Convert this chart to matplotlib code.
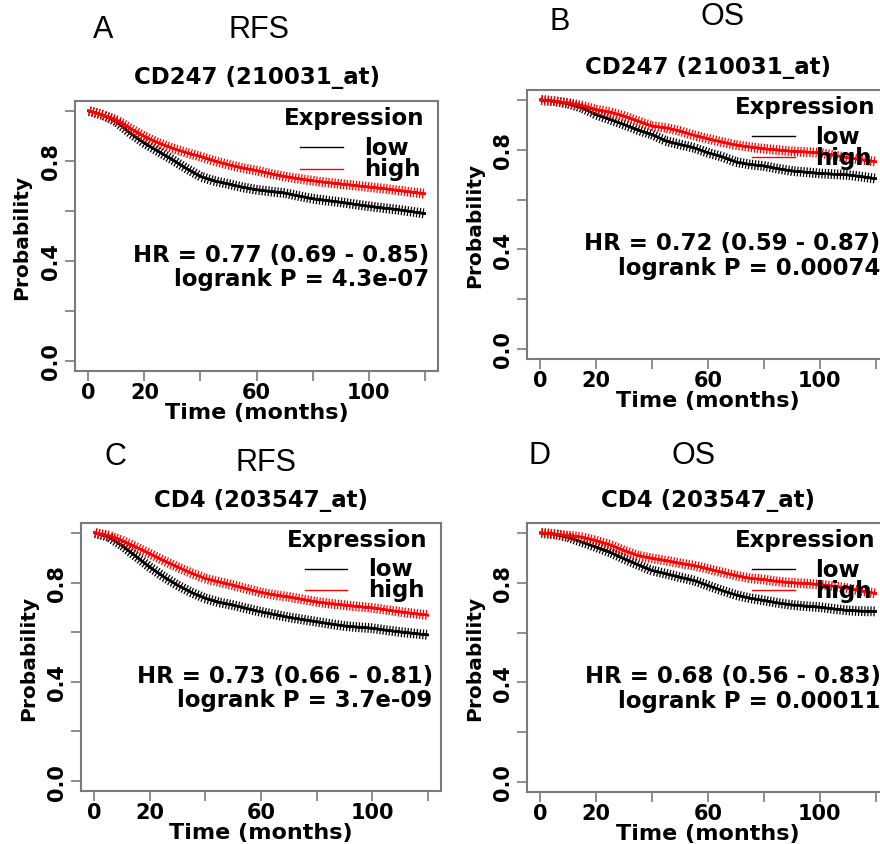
import numpy as np
import matplotlib
matplotlib.use('Agg')
import matplotlib.pyplot as plt
import matplotlib.patheffects as pe

# Kaplan-Meier estimates, every 5 months
months = [0, 5, 10, 15, 20, 25, 30, 35, 40, 45, 50, 55, 60,
          65, 70, 75, 80, 85, 90, 95, 100, 105, 110, 115, 120]

a_low = [1.0, 0.985, 0.957, 0.911, 0.871, 0.838, 0.805, 0.77, 0.738, 0.72, 0.708, 0.695, 0.685,
         0.678, 0.672, 0.66, 0.649, 0.642, 0.635, 0.627, 0.619, 0.612, 0.606, 0.598, 0.59]
a_high = [1.0, 0.984, 0.964, 0.93, 0.898, 0.872, 0.851, 0.833, 0.818, 0.8, 0.785, 0.772, 0.762,
          0.749, 0.738, 0.729, 0.721, 0.714, 0.708, 0.702, 0.696, 0.69, 0.683, 0.676, 0.669]

b_low = [1.0, 0.995, 0.985, 0.968, 0.941, 0.921, 0.901, 0.879, 0.861, 0.835, 0.821, 0.808, 0.788,
         0.772, 0.751, 0.741, 0.735, 0.724, 0.715, 0.71, 0.705, 0.702, 0.699, 0.692, 0.684]
b_high = [1.0, 0.995, 0.988, 0.977, 0.961, 0.951, 0.935, 0.915, 0.895, 0.888, 0.875, 0.858, 0.844,
          0.831, 0.819, 0.811, 0.804, 0.799, 0.794, 0.791, 0.788, 0.778, 0.768, 0.76, 0.752]

c_low = [1.0, 0.985, 0.949, 0.905, 0.862, 0.823, 0.789, 0.76, 0.736, 0.72, 0.709, 0.695, 0.682,
         0.671, 0.66, 0.651, 0.642, 0.633, 0.625, 0.62, 0.616, 0.608, 0.601, 0.595, 0.589]
c_high = [1.0, 0.99, 0.969, 0.943, 0.916, 0.888, 0.862, 0.838, 0.816, 0.802, 0.789, 0.774, 0.76,
          0.75, 0.742, 0.732, 0.722, 0.715, 0.709, 0.703, 0.698, 0.69, 0.682, 0.675, 0.669]

d_low = [1.0, 0.995, 0.983, 0.963, 0.943, 0.922, 0.896, 0.872, 0.849, 0.836, 0.822, 0.809, 0.789,
         0.769, 0.751, 0.738, 0.729, 0.719, 0.711, 0.706, 0.702, 0.695, 0.689, 0.686, 0.685]
d_high = [1.0, 0.996, 0.989, 0.983, 0.969, 0.952, 0.929, 0.909, 0.898, 0.889, 0.878, 0.869, 0.856,
          0.842, 0.829, 0.818, 0.813, 0.805, 0.8, 0.797, 0.793, 0.786, 0.778, 0.767, 0.757]

titles = ["CD247 (210031_at)", "CD247 (210031_at)", "CD4 (203547_at)", "CD4 (203547_at)"]
hr_texts = ["HR = 0.77 (0.69 - 0.85)", "HR = 0.72 (0.59 - 0.87)",
            "HR = 0.73 (0.66 - 0.81)", "HR = 0.68 (0.56 - 0.83)"]
p_texts = ["logrank P = 4.3e-07", "logrank P = 0.00074",
           "logrank P = 3.7e-09", "logrank P = 0.00011"]
letters = ["A", "B", "C", "D"]
kinds = ["RFS", "OS", "RFS", "OS"]

W, H = 880, 845
# axes boxes in pixels: left, top, right, bottom
boxes = [(75, 102, 438, 372), (527, 91, 889, 360),
         (81, 524, 441, 792), (527, 524, 889, 793)]
letter_pos = [(103, 30), (560, 22), (115, 457), (539, 456)]
kind_pos = [(259, 30), (723, 17), (266, 463), (694, 456)]
curves = [(a_low, a_high), (b_low, b_high), (c_low, c_high), (d_low, d_high)]

plt.rcParams['font.family'] = 'DejaVu Sans'
plt.rcParams['font.weight'] = 'bold'
fs = 16.5     # horizontal texts
fsv = 14.5    # vertical texts
grey = '#7a7a7a'

# dense censor ticks along the curves
censor = [pe.withTickedStroke(spacing=2.2, angle=90, length=1.4, linewidth=0.9),
          pe.withTickedStroke(spacing=2.2, angle=-90, length=1.4, linewidth=0.9),
          pe.Normal()]

fig = plt.figure(figsize=(W / 100, H / 100), dpi=100)

for i in range(4):
    l, t, r, b = boxes[i]
    ax = fig.add_axes([l / W, 1 - b / H, (r - l) / W, (b - t) / H])
    low, high = curves[i]
    ax.plot(months, low, color='black', lw=1.7, path_effects=censor)
    ax.plot(months, high, color='red', lw=1.7, path_effects=censor)
    ax.set_xlim(-4.8, 124.8)
    ax.set_ylim(-0.04, 1.04)

    ax.set_xticks([0, 20, 40, 60, 80, 100, 120])
    ax.set_xticklabels(['0', '20', '', '60', '', '100', ''], fontsize=15)
    ax.set_yticks([0, 0.2, 0.4, 0.6, 0.8, 1.0])
    ax.set_yticklabels(['0.0', '', '0.4', '', '0.8', ''], rotation=90, va='center', fontsize=15)
    ax.tick_params(length=7, width=1.2, color=grey)
    ax.tick_params(axis='x', pad=1)
    ax.tick_params(axis='y', pad=3)
    for s in ax.spines.values():
        s.set_color(grey)
        s.set_linewidth(1.5)

    ax.text(0.5, 1.089, titles[i], transform=ax.transAxes, ha='center', va='center',
            fontsize=fs, fontweight='bold')
    ax.text(0.5, -0.152, 'Time (months)', transform=ax.transAxes, ha='center', va='center',
            fontsize=16, fontweight='bold')
    ax.text(-0.146, 0.5, 'Probability', transform=ax.transAxes, rotation=90,
            ha='center', va='center', fontsize=fsv, fontweight='bold')

    # legend in data coordinates, as drawn by R
    ax.text(120, 0.975, 'Expression', ha='right', va='center', fontsize=fs, clip_on=False)
    ax.plot([75.7, 91], [0.855, 0.855], color='black', lw=1, clip_on=False)
    ax.plot([75.7, 91], [0.77, 0.77], color='red', lw=1, clip_on=False)
    ax.text(98.5, 0.855, 'low', ha='left', va='center', fontsize=fs, clip_on=False)
    ax.text(98.5, 0.77, 'high', ha='left', va='center', fontsize=fs, clip_on=False)

    ax.text(121.8, 0.427, hr_texts[i], ha='right', va='center', fontsize=fs, clip_on=False)
    ax.text(121.8, 0.328, p_texts[i], ha='right', va='center', fontsize=fs, clip_on=False)

    lx, ly = letter_pos[i]
    fig.text(lx / W, 1 - ly / H, letters[i], ha='center', va='center', fontsize=22,
             family='Liberation Sans', fontweight='normal')
    kx, ky = kind_pos[i]
    fig.text(kx / W, 1 - ky / H, kinds[i], ha='center', va='center', fontsize=22,
             family='Liberation Sans', fontweight='normal')

fig.savefig('out.png', dpi=100)
